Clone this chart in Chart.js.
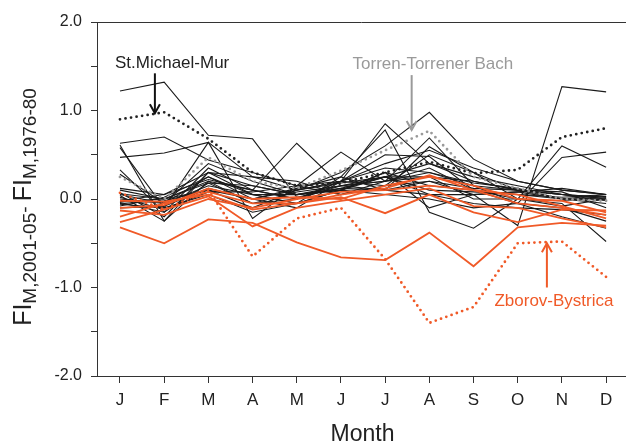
<!DOCTYPE html>
<html><head><meta charset="utf-8">
<script src="https://cdn.jsdelivr.net/npm/chart.js@4.4.0/dist/chart.umd.min.js"></script>
<style>html,body{margin:0;padding:0;background:#fff;}</style>
</head><body>
<canvas id="c" width="626" height="442" style="width:626px;height:442px;display:block"></canvas>
<script>
const months = ['J','F','M','A','M','J','J','A','S','O','N','D'];
const yMajorTicks = [-2, -1, 0, 1, 2];

// Highlighted catchments
const stMichaelMur = [0.90, 0.98, 0.68, 0.30, 0.15, 0.18, 0.30, 0.42, 0.29, 0.33, 0.70, 0.80];
const torrenTorrenerBach = [0.25, 0.00, 0.47, 0.20, 0.12, 0.32, 0.55, 0.77, 0.25, 0.12, 0.00, -0.02];
const zborovBystrica = [0.07, -0.12, 0.10, -0.65, -0.22, -0.10, -0.68, -1.40, -1.22, -0.50, -0.48, -0.88];

// Other catchments (black)
const blackLines = [
  [1.22, 1.32, 0.72, 0.68, 0.02, 0.12, 0.25, 0.05, -0.05, -0.10, -0.12, -0.18],
  [0.63, 0.70, 0.44, 0.30, 0.15, 0.20, 0.85, 0.40, 0.20, 0.10, 0.05, 0.02],
  [0.47, 0.52, 0.64, 0.25, 0.10, 0.30, 0.60, 0.98, 0.45, 0.20, 0.10, 0.05],
  [0.61, -0.25, 0.30, 0.05, -0.05, 0.25, 0.78, -0.15, -0.33, 0.00, 0.60, 0.36],
  [0.58, -0.10, 0.64, -0.22, 0.15, 0.53, 0.20, 0.69, 0.15, -0.05, 0.47, 0.53],
  [0.33, -0.15, 0.35, 0.10, 0.63, 0.15, 0.10, 0.59, 0.30, 0.00, -0.05, -0.48],
  [0.28, -0.05, 0.25, 0.00, -0.10, 0.20, 0.50, 0.48, 0.10, -0.05, -0.20, -0.33],
  [0.07, -0.20, 0.30, 0.15, 0.05, 0.10, 0.30, -0.10, 0.05, -0.30, 1.27, 1.21],
  [0.04, -0.25, 0.20, -0.05, 0.08, 0.15, 0.20, 0.35, 0.10, 0.05, 0.00, 0.05],
  [0.00, -0.05, 0.15, 0.05, 0.05, 0.10, 0.25, 0.25, 0.20, 0.10, 0.05, 0.00],
  [-0.03, 0.00, 0.20, 0.10, 0.00, 0.15, 0.20, 0.30, 0.15, 0.10, 0.05, 0.02],
  [-0.05, -0.02, 0.10, -0.10, 0.10, 0.20, 0.15, 0.20, 0.05, 0.08, 0.00, -0.05],
  [-0.08, 0.02, 0.25, 0.05, -0.05, 0.10, 0.30, 0.15, 0.10, 0.00, -0.08, 0.00],
  [0.10, 0.00, 0.18, 0.15, 0.05, 0.12, 0.10, 0.20, 0.12, 0.10, 0.08, -0.10],
  [-0.10, -0.08, 0.12, 0.00, 0.10, 0.18, 0.25, 0.10, 0.08, 0.05, 0.02, 0.05],
  [0.02, -0.12, 0.08, 0.08, 0.15, 0.05, 0.20, 0.25, 0.00, 0.00, -0.02, 0.03],
  [-0.02, 0.05, 0.22, 0.10, 0.00, 0.20, 0.35, 0.30, 0.18, 0.12, 0.00, 0.00],
  [0.05, -0.05, 0.40, 0.20, 0.05, 0.15, 0.25, 0.40, 0.25, 0.15, 0.05, -0.02],
  [-0.06, -0.10, 0.05, -0.15, -0.05, 0.10, 0.05, 0.00, -0.10, -0.05, -0.10, -0.25],
  [0.12, 0.05, 0.30, 0.25, 0.20, 0.05, 0.15, 0.50, 0.30, 0.10, 0.00, 0.00],
  [-0.04, -0.15, 0.18, -0.05, 0.00, 0.20, 0.40, 0.55, 0.35, 0.20, 0.10, 0.05],
  [0.06, 0.00, 0.10, 0.00, 0.12, 0.25, 0.10, 0.05, 0.05, 0.08, 0.12, 0.05]
];

// Other catchments (red)
const redLines = [
  [-0.32, -0.50, -0.23, -0.27, -0.49, -0.66, -0.69, -0.38, -0.76, -0.32, -0.27, -0.30],
  [-0.26, -0.12, 0.03, -0.31, -0.10, -0.02, 0.05, 0.12, -0.08, -0.10, -0.22, -0.32],
  [-0.20, -0.05, 0.08, -0.05, -0.05, 0.05, 0.12, 0.27, 0.10, -0.05, -0.10, -0.18],
  [-0.13, -0.18, 0.00, -0.10, 0.00, 0.08, 0.10, 0.15, 0.10, 0.05, -0.08, -0.22],
  [-0.10, -0.07, 0.12, 0.00, 0.02, 0.00, 0.15, 0.25, 0.15, 0.00, -0.02, -0.15],
  [-0.02, -0.03, 0.05, -0.12, -0.05, 0.02, -0.16, 0.05, -0.15, -0.26, -0.12, -0.13]
];

const RED = '#f05a28';
const BLACK = '#1a1a1a';
const GREY = '#9a9a9a';
const FONT = '"Liberation Sans", Arial, Helvetica, sans-serif';

const toPts = arr => arr.map((v, i) => ({x: i, y: v}));

const datasets = [];
blackLines.forEach(a => datasets.push({data: toPts(a), borderColor: BLACK, borderWidth: 1.1, order: 3}));
redLines.forEach(a => datasets.push({data: toPts(a), borderColor: RED, borderWidth: 1.8, order: 2}));
const dotted = (arr, color) => ({data: toPts(arr), borderColor: color, borderWidth: 2.8,
  borderDash: [0, 5.6], borderCapStyle: 'round', order: 1});
datasets.push(dotted(torrenTorrenerBach, GREY));
datasets.push(dotted(stMichaelMur, '#222'));
datasets.push(dotted(zborovBystrica, RED));

function arrow(ctx, x, y1, y2, color, w) {
  const dir = y2 > y1 ? 1 : -1;
  ctx.save();
  ctx.strokeStyle = color; ctx.lineWidth = w; ctx.lineCap = 'butt';
  ctx.beginPath(); ctx.moveTo(x, y1); ctx.lineTo(x, y2); ctx.stroke();
  ctx.beginPath(); ctx.moveTo(x - 5, y2 - dir * 9); ctx.lineTo(x, y2); ctx.lineTo(x + 5, y2 - dir * 9); ctx.stroke();
  ctx.restore();
}

const decor = {
  id: 'decor',
  afterDraw(chart) {
    const {ctx, chartArea: ca, scales: {x, y}} = chart;
    ctx.save();
    // top frame line
    ctx.strokeStyle = '#333'; ctx.lineWidth = 1;
    ctx.beginPath(); ctx.moveTo(ca.left, ca.top + 0.5); ctx.lineTo(ca.right, ca.top + 0.5); ctx.stroke();

    // annotations
    ctx.font = '17px ' + FONT;
    ctx.textAlign = 'center'; ctx.textBaseline = 'alphabetic';
    ctx.fillStyle = '#222';
    ctx.fillText('St.Michael-Mur', x.getPixelForValue(1.18), y.getPixelForValue(1.48));
    arrow(ctx, x.getPixelForValue(0.79), y.getPixelForValue(1.42), y.getPixelForValue(0.97), '#111', 2);
    ctx.fillStyle = GREY;
    ctx.fillText('Torren-Torrener Bach', x.getPixelForValue(7.08), y.getPixelForValue(1.47));
    arrow(ctx, x.getPixelForValue(6.6), y.getPixelForValue(1.40), y.getPixelForValue(0.78), GREY, 2);
    ctx.fillStyle = RED;
    ctx.fillText('Zborov-Bystrica', x.getPixelForValue(9.82), y.getPixelForValue(-1.21));
    arrow(ctx, x.getPixelForValue(9.66), y.getPixelForValue(-1.0), y.getPixelForValue(-0.50), RED, 2);

    // x title
    ctx.fillStyle = '#222';
    ctx.font = '23px ' + FONT;
    ctx.textAlign = 'center'; ctx.textBaseline = 'alphabetic';
    ctx.fillText('Month', (ca.left + ca.right) / 2 + 1, 441);

    // y title with subscripts
    const parts = [
      ['FI', 25, 0], ['M,2001-05', 19, 5], ['- ', 19, 0], ['FI', 25, 0], ['M,1976-80', 19, 5]
    ];
    let total = 0;
    parts.forEach(p => { ctx.font = p[1] + 'px ' + FONT; total += ctx.measureText(p[0]).width; });
    ctx.translate(31, 207);
    ctx.rotate(-Math.PI / 2);
    ctx.textAlign = 'left';
    let cx = -total / 2;
    parts.forEach(p => {
      ctx.font = p[1] + 'px ' + FONT;
      ctx.fillText(p[0], cx, p[2]);
      cx += ctx.measureText(p[0]).width;
    });
    ctx.restore();
  }
};

new Chart(document.getElementById('c'), {
  type: 'line',
  data: {datasets},
  plugins: [decor],
  options: {
    responsive: false,
    devicePixelRatio: 1,
    animation: false,
    events: [],
    layout: {padding: {top: 22, left: 0, right: 0, bottom: 0}},
    plugins: {legend: {display: false}, tooltip: {enabled: false}},
    elements: {point: {radius: 0}, line: {tension: 0, fill: false}},
    scales: {
      x: {
        type: 'linear', min: -0.52, max: 11.45,
        afterFit(a) { a.height = 66; },
        afterBuildTicks(a) { a.ticks = months.map((m, i) => ({value: i})); },
        ticks: {
          autoSkip: false, maxRotation: 0, padding: 7, color: '#222',
          font: {family: FONT, size: 17},
          callback: v => months[v]
        },
        grid: {drawOnChartArea: false, drawTicks: true, tickLength: 7, color: '#333'},
        border: {display: true, color: '#333', width: 1}
      },
      y: {
        min: -2, max: 2,
        afterFit(a) { a.width = 97; },
        ticks: {
          stepSize: 0.5, padding: 9, color: '#222',
          font: {family: FONT, size: 16},
          callback: v => yMajorTicks.includes(v) ? v.toFixed(1) : ''
        },
        grid: {drawOnChartArea: false, drawTicks: true, tickLength: 6, color: '#333'},
        border: {display: true, color: '#333', width: 1}
      }
    }
  }
});
</script>
</body></html>
